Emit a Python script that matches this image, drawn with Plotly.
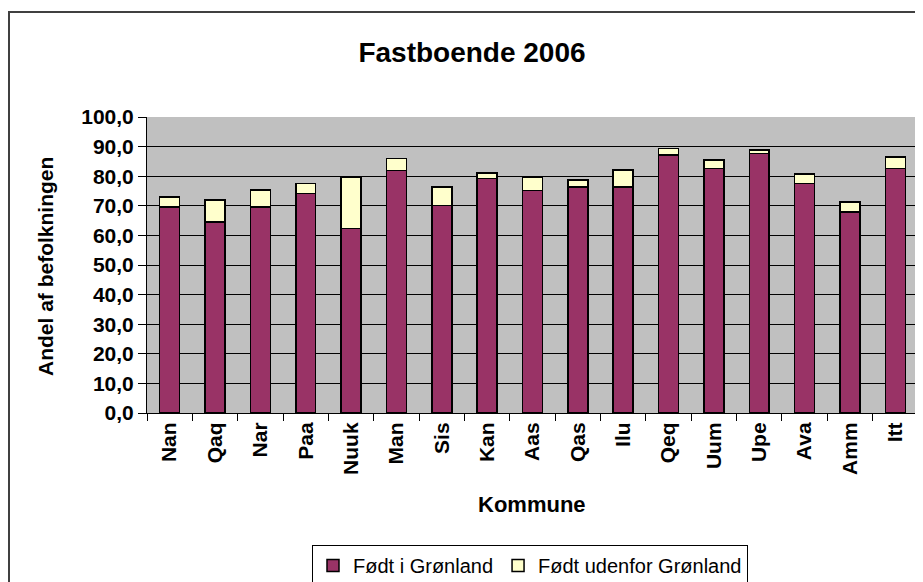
import plotly.graph_objects as go

kommuner = ["Nan", "Qaq", "Nar", "Paa", "Nuuk", "Man", "Sis", "Kan", "Aas", "Qas",
            "Ilu", "Qeq", "Uum", "Upe", "Ava", "Amm", "Itt"]
foedt_i = [69.6, 64.5, 69.6, 74.1, 62.3, 82.0, 70.1, 79.3, 75.2, 76.4,
           76.3, 87.1, 82.6, 87.6, 77.6, 67.9, 82.6]
foedt_udenfor = [3.4, 7.4, 5.7, 3.5, 17.4, 4.0, 6.2, 1.7, 4.5, 2.3,
                 5.8, 2.3, 2.9, 1.2, 3.2, 3.4, 3.9]
y_tickvals = [0, 10, 20, 30, 40, 50, 60, 70, 80, 90, 100]
y_ticktext = ["0,0", "10,0", "20,0", "30,0", "40,0", "50,0", "60,0", "70,0", "80,0", "90,0", "100,0"]

FONT = "Liberation Sans, Arial, sans-serif"
W, H = 923, 582
OFF = 8  # page body offset
ML, MR, MT, MB = 139, 13, 109, 177
pw = W - ML - MR
ph = H - MT - MB

def px_x(sx):
    return (sx - OFF - ML) / pw

def px_y(sy):
    return (H - MB - (sy - OFF)) / ph

fig = go.Figure()
fig.add_trace(go.Bar(
    x=kommuner, y=foedt_i, name="Født i Grønland",
    marker=dict(color="#993366", line=dict(color="black", width=1.5)),
))
fig.add_trace(go.Bar(
    x=kommuner, y=foedt_udenfor, name="Født udenfor Grønland",
    marker=dict(color="#FFFFCC", line=dict(color="black", width=1.5)),
))

fig.update_layout(
    width=W, height=H,
    barmode="stack", bargap=0.56,
    paper_bgcolor="white", plot_bgcolor="#C0C0C0",
    margin=dict(l=ML, r=MR, t=MT, b=MB, autoexpand=False),
    font=dict(family=FONT, color="black"),
    title=dict(text="<b>Fastboende 2006</b>", x=(472 - OFF) / W, xanchor="center",
               y=1 - (52 - OFF) / H, yanchor="middle", xref="container", yref="container",
               font=dict(size=28, family=FONT, color="black")),
    showlegend=True,
    legend=dict(orientation="h", x=px_x(530), xanchor="center", y=px_y(545), yanchor="top",
                bordercolor="black", borderwidth=1, bgcolor="white",
                font=dict(size=20, family=FONT, color="black"),
                traceorder="normal"),
    xaxis=dict(
        tickangle=-90, tickfont=dict(size=21, family=FONT, color="black", weight="bold"),
        ticks="outside", tickson="boundaries", ticklen=7, tickcolor="black",
        showline=True, linecolor="black", linewidth=1, showgrid=False,
    ),
    yaxis=dict(
        range=[0, 100], tickvals=y_tickvals, ticktext=y_ticktext,
        tickfont=dict(size=21, family=FONT, color="black", weight="bold"),
        ticks="outside", ticklen=8, tickcolor="black",
        showline=True, linecolor="black", linewidth=1,
        showgrid=True, gridcolor="black", gridwidth=1, zeroline=False,
    ),
    annotations=[
        dict(text="<b>Kommune</b>", x=px_x(532), y=px_y(504), xref="paper", yref="paper",
             showarrow=False, font=dict(size=22, family=FONT, color="black"),
             xanchor="center", yanchor="middle"),
        dict(text="<b>Andel af befolkningen</b>", x=px_x(45), y=px_y(267), xref="paper", yref="paper",
             showarrow=False, textangle=-90, font=dict(size=21, family=FONT, color="black"),
             xanchor="center", yanchor="middle"),
    ],
    shapes=[
        dict(type="rect", xref="paper", yref="paper",
             x0=px_x(9), x1=px_x(940), y0=px_y(640), y1=px_y(12),
             line=dict(color="#404040", width=2), fillcolor="rgba(0,0,0,0)", layer="below"),
    ],
)

fig.write_html("out.html")
